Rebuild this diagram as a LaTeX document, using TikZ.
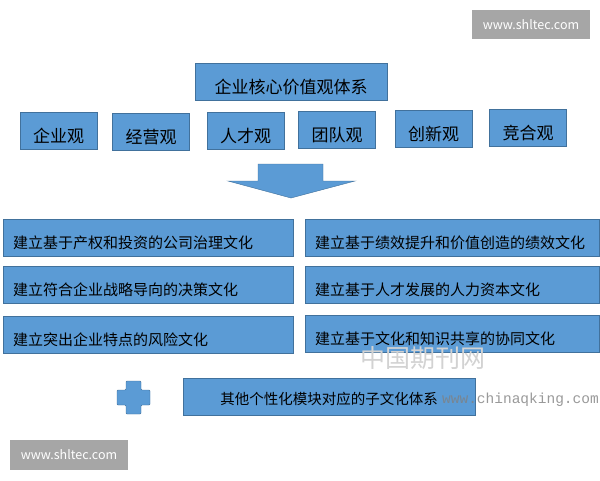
\documentclass[tikz,border=0pt]{standalone}
\usepackage{fontspec}
\setmainfont{Noto Sans CJK SC}
\newfontfamily\wmfont{Liberation Mono}
\usepackage{tikz}
\usepackage{xcolor}
\usetikzlibrary{positioning}

\definecolor{boxblue}{RGB}{91,155,213}
\definecolor{lineblue}{RGB}{65,113,156}
\definecolor{markgray}{RGB}{166,166,166}

\begin{document}
\begin{tikzpicture}[x=1pt, y=-1pt,
    core/.style={rectangle, draw=lineblue, fill=boxblue, minimum width=192pt, minimum height=37pt, inner sep=0pt, font=\fontsize{17}{20}\selectfont, text height=23pt, text depth=0pt},
    view/.style={rectangle, draw=lineblue, fill=boxblue, minimum width=77pt, minimum height=37pt, inner sep=0pt, font=\fontsize{17}{20}\selectfont, text height=23pt, text depth=0pt},
    culture/.style={rectangle, draw=lineblue, fill=boxblue, minimum height=37pt, inner xsep=10pt, inner ysep=0pt, align=left, font=\fontsize{15}{18}\selectfont, text height=21.4pt, text depth=0pt},
    other/.style={rectangle, draw=lineblue, fill=boxblue, minimum width=292pt, minimum height=37pt, inner sep=0pt, font=\fontsize{14.5}{17}\selectfont, text height=15pt, text depth=0pt},
    sitemark/.style={rectangle, fill=markgray, text=white, minimum width=118pt, minimum height=29pt, inner sep=0pt, font=\fontsize{12.5}{15}\selectfont}
]
\useasboundingbox[fill=white] (0,0) rectangle (600,480);

% Core values
\node[core] (core) at (291,81.5) {企业核心价值观体系};

% Six views
\node[view] (qiye) at (58.5,130.5) {企业观};
\node[view] (jingying) at (151,131.5) {经营观};
\node[view] (rencai) at (245.5,130.5) {人才观};
\node[view] (tuandui) at (337,129.5) {团队观};
\node[view] (chuangxin) at (433.5,128.5) {创新观};
\node[view] (jinghe) at (528,127.5) {竞合观};

% Down arrow
\draw[draw=lineblue, fill=boxblue] (258,164) -- (323,164) -- (323,181) -- (355,181) -- (291,198) -- (228,181) -- (258,181) -- cycle;

% Left column
\node[culture, text width=270pt] (zhili) at (148,237.5) {建立基于产权和投资的公司治理文化};
\node[culture, text width=270pt] (juece) at (148,285) {建立符合企业战略导向的决策文化};
\node[culture, text width=270pt] (fengxian) at (148,334.5) {建立突出企业特点的风险文化};

% Right column
\node[culture, text width=274pt] (jixiao) at (452,237.5) {建立基于绩效提升和价值创造的绩效文化};
\node[culture, text width=274pt] (ziben) at (452,285) {建立基于人才发展的人力资本文化};
\node[culture, text width=274pt] (xietong) at (452,333.5) {建立基于文化和知识共享的协同文化};

% Plus and other modules
\draw[draw=lineblue, fill=boxblue, rounded corners=1pt] (126,381) -- (141,381) -- (141,390) -- (150,390) -- (150,405) -- (141,405) -- (141,414) -- (126,414) -- (126,405) -- (117,405) -- (117,390) -- (126,390) -- cycle;
\node[other] (qita) at (329,396.5) {其他个性化模块对应的子文化体系};

% Watermarks
\node[text=gray!35, font=\fontsize{25}{28}\selectfont] (cnmark) at (423,358) {中国期刊网};
\node[text=gray, opacity=0.8, anchor=east, inner sep=0pt, font=\wmfont\fontsize{14.5}{16}\selectfont] (webmark) at (599,400) {www.chinaqking.com};
\node[sitemark] (marktop) at (531,24.5) {www.shltec.com};
\node[sitemark, minimum height=30pt] (markbottom) at (69,455) {www.shltec.com};

\end{tikzpicture}
\end{document}
